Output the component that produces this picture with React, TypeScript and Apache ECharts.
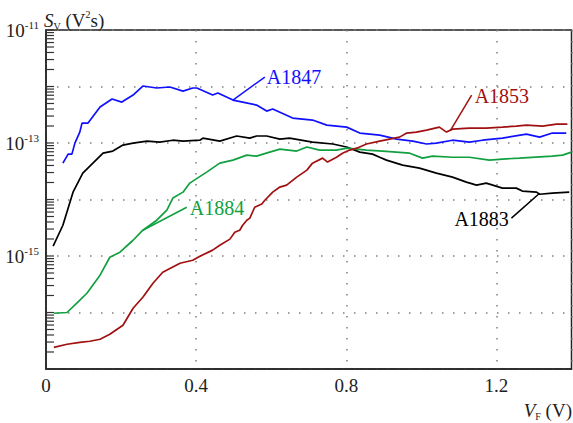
import React, { useEffect, useRef } from 'react';
import * as echarts from 'echarts';

const FONT = "'Liberation Serif', 'Times New Roman', serif";

// Axis ticks / labels
const xTickLabels = [0, 0.4, 0.8, 1.2];
const yLabelExponents = [-11, -13, -15];
const yDecades = [-17, -16, -15, -14, -13, -12, -11];
const minorMultipliers = [2, 3, 4, 5, 6, 7, 8, 9];

// A1847 (blue)
const a1847X = [0.045, 0.059, 0.069, 0.077, 0.09, 0.096, 0.112, 0.144, 0.176, 0.202, 0.232, 0.258, 0.295, 0.33, 0.365, 0.391, 0.402, 0.444, 0.458, 0.498, 0.561, 0.588, 0.604, 0.657, 0.71, 0.748, 0.801, 0.836, 0.889, 0.934, 0.977, 1.014, 1.04, 1.083, 1.128, 1.163, 1.216, 1.28, 1.315, 1.349, 1.386];
const a1847Y = [4.4e-14, 6.35e-14, 6.35e-14, 9.95e-14, 1.56e-13, 2.25e-13, 2.25e-13, 4.33e-13, 6.0e-13, 5.3e-13, 7.06e-13, 1.02e-12, 9.4e-13, 9.8e-13, 8.3e-13, 9.4e-13, 9.4e-13, 7.06e-13, 7.66e-13, 5.75e-13, 4.69e-13, 3.67e-13, 3.99e-13, 2.76e-13, 2.55e-13, 2.07e-13, 1.91e-13, 1.5e-13, 1.38e-13, 1.17e-13, 1.08e-13, 9.6e-14, 9.95e-14, 1.12e-13, 1.04e-13, 1.12e-13, 1.22e-13, 1.44e-13, 1.27e-13, 1.5e-13, 1.5e-13];

// A1883 (black)
const a1883X = [0.019, 0.045, 0.072, 0.098, 0.125, 0.152, 0.178, 0.205, 0.232, 0.269, 0.303, 0.338, 0.365, 0.41, 0.418, 0.463, 0.508, 0.543, 0.561, 0.588, 0.623, 0.649, 0.71, 0.764, 0.801, 0.836, 0.87, 0.889, 0.907, 0.95, 0.995, 1.04, 1.083, 1.12, 1.147, 1.173, 1.216, 1.253, 1.269, 1.307, 1.315, 1.349, 1.394];
const a1883Y = [1.49e-15, 3.5e-15, 1.35e-14, 2.93e-14, 4.4e-14, 6.6e-14, 7.2e-14, 9.2e-14, 9.95e-14, 1.08e-13, 1.04e-13, 1.12e-13, 1.08e-13, 1.12e-13, 1.22e-13, 1.08e-13, 1.33e-13, 1.22e-13, 1.33e-13, 1.33e-13, 1.17e-13, 1.22e-13, 1.04e-13, 9.6e-14, 8.5e-14, 6.9e-14, 6.35e-14, 5.6e-14, 4.98e-14, 4.06e-14, 3.59e-14, 2.93e-14, 2.49e-14, 2.03e-14, 1.8e-14, 1.95e-14, 1.59e-14, 1.59e-14, 1.41e-14, 1.35e-14, 1.24e-14, 1.3e-14, 1.35e-14];

// A1884 (green)
const a1884X = [0.021, 0.056, 0.082, 0.109, 0.144, 0.17, 0.197, 0.232, 0.258, 0.295, 0.322, 0.338, 0.365, 0.383, 0.428, 0.463, 0.498, 0.535, 0.561, 0.596, 0.623, 0.668, 0.695, 0.729, 0.774, 0.801, 0.854, 0.897, 0.969, 1.003, 1.03, 1.083, 1.128, 1.181, 1.216, 1.261, 1.349, 1.376, 1.4];
const a1884Y = [9.7e-17, 1.0e-16, 1.46e-16, 2.19e-16, 4.57e-16, 9.5e-16, 1.17e-15, 1.9e-15, 2.86e-15, 4.3e-15, 6.5e-15, 1.06e-14, 1.35e-14, 1.95e-14, 3.05e-14, 4.4e-14, 4.98e-14, 6.1e-14, 5.86e-14, 6.9e-14, 7.8e-14, 7.2e-14, 8.5e-14, 7.5e-14, 7.5e-14, 8.1e-14, 7.5e-14, 7.2e-14, 6.6e-14, 5.4e-14, 5.86e-14, 5.6e-14, 5.6e-14, 4.98e-14, 5.2e-14, 5.4e-14, 5.86e-14, 6.1e-14, 6.9e-14];

// A1853 (dark red)
const a1853X = [0.021, 0.056, 0.09, 0.117, 0.144, 0.17, 0.205, 0.232, 0.258, 0.285, 0.311, 0.357, 0.391, 0.41, 0.444, 0.463, 0.49, 0.503, 0.516, 0.524, 0.535, 0.543, 0.556, 0.575, 0.583, 0.604, 0.623, 0.641, 0.668, 0.695, 0.71, 0.737, 0.75, 0.774, 0.79, 0.809, 0.828, 0.854, 0.889, 0.942, 0.961, 0.987, 1.014, 1.048, 1.067, 1.083, 1.128, 1.173, 1.216, 1.253, 1.28, 1.323, 1.36, 1.389];
const a1853Y = [2.42e-17, 2.74e-17, 2.97e-17, 3.1e-17, 3.36e-17, 4.12e-17, 5.94e-17, 1.19e-16, 1.86e-16, 3.3e-16, 5.16e-16, 7.45e-16, 8.4e-16, 9.9e-16, 1.27e-15, 1.55e-15, 1.99e-15, 2.64e-15, 2.86e-15, 3.5e-15, 4.3e-15, 4.68e-15, 7.3e-15, 8.3e-15, 9.7e-15, 1.35e-14, 1.66e-14, 1.8e-14, 2.49e-14, 3.31e-14, 4.4e-14, 5.4e-14, 4.6e-14, 5.6e-14, 6.6e-14, 7.5e-14, 8.1e-14, 9.6e-14, 1.08e-13, 1.27e-13, 1.5e-13, 1.56e-13, 1.69e-13, 1.91e-13, 1.56e-13, 1.76e-13, 1.84e-13, 1.84e-13, 1.91e-13, 1.99e-13, 2.07e-13, 1.99e-13, 2.16e-13, 2.16e-13];

// Annotations: label anchor and leader line (data coordinates)
const labelNames = ['A1847', 'A1853', 'A1884', 'A1883'];
const labelAnchorX = [0.588, 1.142, 0.383, 1.088];
const labelAnchorY = [1.47e-12, 6.78e-13, 7.03e-15, 4.49e-15];
const leaderStartX = [0.583, 1.134, 0.375, 1.24];
const leaderStartY = [1.47e-12, 7.06e-13, 7.3e-15, 4.68e-15];
const leaderEndX = [0.498, 1.078, 0.258, 1.315];
const leaderEndY = [5.75e-13, 1.69e-13, 2.86e-15, 1.29e-14];

const COLORS: Record<string, string> = {
  A1847: '#1010ff',
  A1883: '#000000',
  A1884: '#10a040',
  A1853: '#a01010',
};

export default function App() {
  const ref = useRef<HTMLDivElement>(null);
  useEffect(() => {
    const chart = echarts.init(ref.current!, null, { renderer: 'svg' });
    const toLog = (xs: number[], ys: number[]) => xs.map((x, i) => [x, Math.log10(ys[i])]);
    const tickValues: number[] = [];
    yDecades.forEach((d) => {
      tickValues.push(d);
      if (d < -11) minorMultipliers.forEach((k) => tickValues.push(d + Math.log10(k)));
    });
    const seriesDefs = [
      { name: 'A1847', x: a1847X, y: a1847Y },
      { name: 'A1883', x: a1883X, y: a1883Y },
      { name: 'A1884', x: a1884X, y: a1884Y },
      { name: 'A1853', x: a1853X, y: a1853Y },
    ];
    const gridLine = { show: true, lineStyle: { color: '#808080', type: [1.5, 9.5], width: 1.5 } };
    const lineSeries: any[] = seriesDefs.map((s) => ({
      type: 'line', name: s.name, data: toLog(s.x, s.y), symbol: 'none', silent: true,
      lineStyle: { color: COLORS[s.name], width: 1.7 }, itemStyle: { color: COLORS[s.name] },
    }));
    const tickSeries = {
      type: 'custom', clip: false, z: 10, silent: true,
      data: tickValues.map((v) => [0, v]),
      renderItem: (_p: any, api: any) => {
        const p = api.coord([api.value(0), api.value(1)]);
        return { type: 'line', shape: { x1: p[0], y1: p[1], x2: p[0] + 8, y2: p[1] }, style: { stroke: '#333', lineWidth: 1.2 } };
      },
    };
    chart.setOption({
      animation: false,
      textStyle: { fontFamily: FONT },
      grid: { left: 46, right: 1.5, top: 30, bottom: 54, show: true, borderColor: '#222', borderWidth: 1.5 },
      xAxis: {
        type: 'value', min: 0, max: 1.4, interval: 0.4,
        axisLine: { show: true, lineStyle: { color: '#222', width: 1.5 } },
        axisTick: { show: false },
        axisLabel: { customValues: xTickLabels, color: '#222', fontFamily: FONT, fontSize: 19, margin: 7, formatter: (v: number) => String(v) },
        splitLine: gridLine,
      },
      yAxis: {
        type: 'value', min: -17, max: -11, interval: 1,
        axisLine: { show: true, lineStyle: { color: '#222', width: 1.5 } },
        axisTick: { show: false },
        axisLabel: {
          customValues: yLabelExponents, margin: 7, fontFamily: FONT,
          formatter: (v: number) => `{b|10}{s|${v}}`,
          rich: {
            b: { fontFamily: FONT, fontSize: 19, color: '#222', lineHeight: 22 },
            s: { fontFamily: FONT, fontSize: 11, color: '#222', verticalAlign: 'top', lineHeight: 12 },
          },
        },
        splitLine: gridLine,
      },
      series: [...lineSeries, tickSeries],
    });
    const px = (x: number, v: number) => chart.convertToPixel({ gridIndex: 0 }, [x, Math.log10(v)]) as number[];
    const graphics: any[] = [];
    labelNames.forEach((name, i) => {
      const a = px(labelAnchorX[i], labelAnchorY[i]);
      const s = px(leaderStartX[i], leaderStartY[i]);
      const e = px(leaderEndX[i], leaderEndY[i]);
      graphics.push({ type: 'line', shape: { x1: s[0], y1: s[1], x2: e[0], y2: e[1] }, style: { stroke: COLORS[name], lineWidth: 1.5 }, silent: true });
      graphics.push({ type: 'text', x: a[0], y: a[1], style: { text: name, fill: COLORS[name], font: `20px ${FONT}`, textAlign: 'left', textVerticalAlign: 'middle', align: 'left', verticalAlign: 'middle' }, silent: true });
    });
    graphics.push({
      type: 'text', x: 44, y: 20,
      style: {
        text: '{i|S}{sub|V}{n| (V}{sup|2}{n|s)}', verticalAlign: 'middle', textVerticalAlign: 'middle', align: 'left', textAlign: 'left',
        rich: {
          i: { fontFamily: FONT, fontSize: 19, fontStyle: 'italic', fill: '#222', lineHeight: 22 },
          n: { fontFamily: FONT, fontSize: 19, fill: '#222', lineHeight: 22 },
          sub: { fontFamily: FONT, fontSize: 10, fill: '#222', verticalAlign: 'bottom', lineHeight: 10 },
          sup: { fontFamily: FONT, fontSize: 10, fill: '#222', verticalAlign: 'top', lineHeight: 10 },
        },
      },
      silent: true,
    });
    graphics.push({
      type: 'text', x: 572, y: 410,
      style: {
        text: '{i|V}{sub|F}{n| (V)}', verticalAlign: 'middle', textVerticalAlign: 'middle', align: 'right', textAlign: 'right',
        rich: {
          i: { fontFamily: FONT, fontSize: 19, fontStyle: 'italic', fill: '#222', lineHeight: 22 },
          n: { fontFamily: FONT, fontSize: 19, fill: '#222', lineHeight: 22 },
          sub: { fontFamily: FONT, fontSize: 10, fill: '#222', verticalAlign: 'bottom', lineHeight: 10 },
        },
      },
      silent: true,
    });
    chart.setOption({ graphic: graphics });
    return () => chart.dispose();
  }, []);
  return <div ref={ref} style={{ position: 'fixed', left: 0, top: 0, width: 573, height: 423, background: '#fff' }} />;
}
